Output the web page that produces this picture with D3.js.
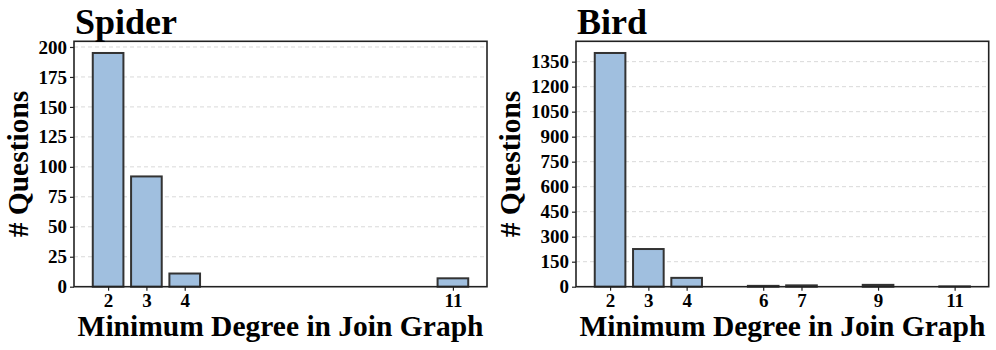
<!DOCTYPE html>
<html><head><meta charset="utf-8">
<script src="https://cdn.jsdelivr.net/npm/d3@7"></script>
<style>body{margin:0;background:#fff}svg{display:block}</style>
</head><body>
<script>
const spiderDegrees = [2, 3, 4, 11];
const spiderCounts = [195, 92, 11, 7];
const spiderTicks = [0, 25, 50, 75, 100, 125, 150, 175, 200];
const birdDegrees = [2, 3, 4, 6, 7, 9, 11];
const birdCounts = [1402, 226, 53, 5, 8, 11, 2];
const birdTicks = [0, 150, 300, 450, 600, 750, 900, 1050, 1200, 1350];
const titles = ["Spider", "Bird"];
const xLabel = "Minimum Degree in Join Graph";
const yLabel = "# Questions";

const W = 996, H = 350;
const svg = d3.select("body").append("svg").attr("width", W).attr("height", H);
const FONT = "'Liberation Serif','Times New Roman',serif";

function panel(left, right, degrees, counts, ticks, title, ylabX) {
  const top = 41.3, bottom = 286.7;
  const x = d3.scaleLinear().domain([1.11, 11.89]).range([left, right]);
  const ymax = d3.max(counts) * 1.05;
  const y = d3.scaleLinear().domain([0, ymax]).range([bottom, top]);
  const g = svg.append("g");
  // grid
  g.append("g").selectAll("line").data(ticks.filter(t => t > 0)).join("line")
    .attr("x1", left).attr("x2", right)
    .attr("y1", d => y(d)).attr("y2", d => y(d))
    .attr("stroke", "#d9d9d9").attr("stroke-width", 1).attr("stroke-dasharray", "4,3");
  // bars
  g.append("g").selectAll("rect").data(degrees.map((d, i) => ({d, v: counts[i]}))).join("rect")
    .attr("x", d => x(d.d - 0.4)).attr("width", d => x(d.d + 0.4) - x(d.d - 0.4))
    .attr("y", d => y(d.v)).attr("height", d => y(0) - y(d.v))
    .attr("fill", "#a0bfdf").attr("stroke", "#333").attr("stroke-width", 2);
  // axes
  const ya = g.append("g").attr("transform", `translate(${left},0)`)
    .call(d3.axisLeft(y).tickValues(ticks).tickSize(4).tickPadding(3).tickFormat(d3.format("d")));
  const xa = g.append("g").attr("transform", `translate(0,${bottom})`)
    .call(d3.axisBottom(x).tickValues(degrees).tickSize(4).tickPadding(3).tickFormat(d3.format("d")));
  [ya, xa].forEach(a => {
    a.select(".domain").remove();
    a.selectAll("line").attr("stroke", "#222").attr("stroke-width", 1.2);
    a.selectAll("text").attr("font-family", FONT).attr("font-weight", "bold")
      .attr("font-size", 19).attr("fill", "#000");
  });
  // frame
  g.append("rect").attr("x", left).attr("y", top).attr("width", right - left).attr("height", bottom - top)
    .attr("fill", "none").attr("stroke", "#222").attr("stroke-width", 1.6);
  // title
  g.append("text").attr("x", left + 1).attr("y", 33.5).text(title)
    .attr("font-family", FONT).attr("font-weight", "bold").attr("font-size", 36);
  // x label
  g.append("text").attr("x", (left + right) / 2).attr("y", 336).attr("text-anchor", "middle")
    .text(xLabel).attr("font-family", FONT).attr("font-weight", "bold").attr("font-size", 29.5);
  // y label
  g.append("text").attr("transform", `translate(${ylabX},${(top + bottom) / 2}) rotate(-90)`)
    .attr("text-anchor", "middle").text(yLabel)
    .attr("font-family", FONT).attr("font-weight", "bold").attr("font-size", 29.5);
}

panel(74, 487, spiderDegrees, spiderCounts, spiderTicks, titles[0], 28);
panel(576, 988.7, birdDegrees, birdCounts, birdTicks, titles[1], 519.5);
</script>
</body></html>
